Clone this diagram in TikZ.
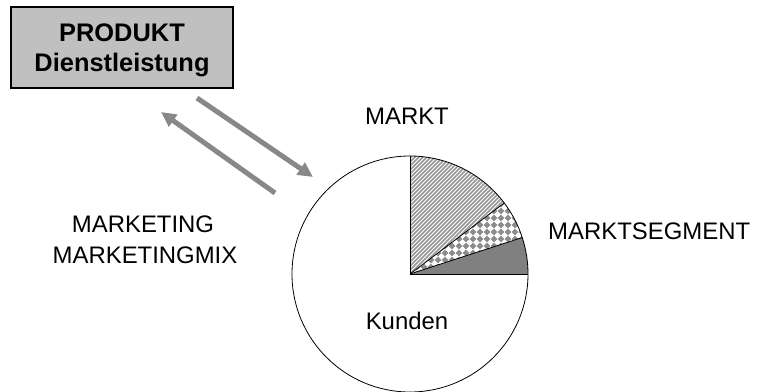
\documentclass[tikz,border=0pt]{standalone}
\usepackage{fontspec}
\setmainfont{Liberation Sans}
\usetikzlibrary{arrows.meta}
\definecolor{boxgray}{RGB}{192,192,192}
\definecolor{arrowgray}{RGB}{136,136,136}
\definecolor{hatchgray}{RGB}{150,150,150}
\definecolor{checkgray}{RGB}{140,140,140}
\definecolor{darkslice}{RGB}{128,128,128}

\begin{document}
\begin{tikzpicture}[x=1bp,y=1bp,
  txt/.style={font=\fontsize{24}{29}\selectfont, inner sep=0pt, anchor=base},
  boldtxt/.style={txt, font=\bfseries\fontsize{25.5}{30}\selectfont},
  flow/.style={draw=arrowgray, line width=5bp, -{Triangle[length=15bp,width=14bp]}},
  rim/.style={draw=black, line width=0.8bp}]
\useasboundingbox (0,0) rectangle (766,391);

% product box
\node[draw=black, line width=1.4bp, fill=boxgray, minimum width=222bp,
      minimum height=81bp, inner sep=0pt] (box) at (122,343.5) {};
\node[boldtxt] (prod) at (122,350) {PRODUKT};
\node[boldtxt] (dienst) at (122,320) {Dienstleistung};

% exchange arrows
\coordinate (a1s) at (197,293);
\coordinate (a1e) at (313,214);
\coordinate (a2s) at (275,198);
\coordinate (a2e) at (161,279);
\draw[flow] (a1s) -- (a1e);
\draw[flow] (a2s) -- (a2e);

% market pie
\coordinate (c) at (410,117);
\def\R{118}

% hatched slice
\begin{scope}
  \clip (c) -- ++(37:\R) arc[start angle=37, end angle=90, radius=\R] -- cycle;
  \foreach \k in {-50,...,50}
    \draw[hatchgray, line width=1.5bp] ([shift={(\k*4-150,-150)}]c) -- ++(300,300);
\end{scope}

% checkered slice
\begin{scope}
  \clip (c) -- ++(18:\R) arc[start angle=18, end angle=37, radius=\R] -- cycle;
  \foreach \i in {0,...,18}
    \foreach \j in {0,...,11}
      \fill[checkgray] ([shift={(\i*7,\j*7)}]c)
        +(-3.3,0) -- +(0,3.3) -- +(3.3,0) -- +(0,-3.3) -- cycle;
\end{scope}

% dark slice
\fill[darkslice] (c) -- ++(0:\R) arc[start angle=0, end angle=18, radius=\R] -- cycle;

% outline and slice borders
\node[circle, rim, minimum size=236bp, inner sep=0pt] (pie) at (c) {};
\draw[rim] (c) -- ++(90:\R);
\draw[rim] (c) -- ++(37:\R);
\draw[rim] (c) -- ++(18:\R);
\draw[rim] (c) -- ++(0:\R);

% labels
\node[txt] (markt) at (407,267) {MARKT};
\node[txt, anchor=base west] (segment) at (548,152) {MARKTSEGMENT};
\node[txt] (mkt) at (143,159) {MARKETING};
\node[txt] (mix) at (145,128) {MARKETINGMIX};
\node[txt] (kunden) at (407,62) {Kunden};
\end{tikzpicture}
\end{document}
